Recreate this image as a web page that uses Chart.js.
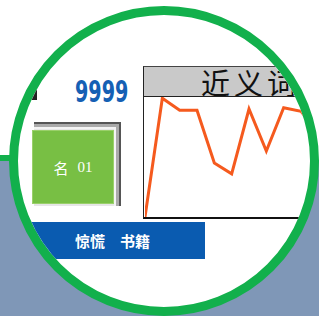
<!DOCTYPE html>
<html lang="zh">
<head>
  <meta charset="UTF-8" />
  <title>近义词</title>
  <style>
    html, body { margin: 0; padding: 0; background: #fff; }
    #page {
      position: relative; width: 319px; height: 316px; overflow: hidden;
      background: linear-gradient(#fff 0, #fff 160px, #7f97b7 160px, #7f97b7 100%);
    }
    #hline { position: absolute; left: 0; top: 155px; width: 60px; height: 6px; background: #12b04c; }
    #lens {
      position: absolute; left: 9px; top: 6px; width: 310px; height: 310px;
      box-sizing: border-box; border: 9px solid #12b04c; border-radius: 50%;
      overflow: hidden; background: #fff;
    }
    /* inner layer uses page coordinates */
    #inner { position: absolute; left: -18px; top: -15px; width: 319px; height: 316px; }
    .abs { position: absolute; }
    #num {
      left: 75px; top: 74px; font: bold 30px "DejaVu Sans Condensed", "DejaVu Sans", sans-serif;
      color: #1560b4; transform: scaleX(0.71); transform-origin: left top;
    }
    #mark { left: 30px; top: 90px; width: 7px; height: 10px; background: #222; }
    #pages {
      left: 34px; top: 122px; width: 85px; height: 82px;
      background: #e6e6e6; border-top: 2px solid #555; border-right: 2px solid #555;
      box-shadow: inset -3px 3px 0 #aaa, inset -5px 5px 0 #f4f4f4;
    }
    #btn {
      left: 32px; top: 130px; width: 82px; height: 74px; background: #78bf44;
      box-shadow: inset 0 0 0 1px #9ad06a;
      display: flex; align-items: center; justify-content: center;
      color: #fff; font: 15px "Noto Sans CJK SC", serif;
    }
    #btn span { font: 15px "Liberation Serif", serif; margin-left: 9px; }
    #bar {
      left: -10px; top: 222px; width: 215px; height: 37px; background: #0a5bb0;
      color: #fff; font: bold 15px "Noto Sans CJK SC", sans-serif; line-height: 37px;
    }
    #bar span { position: absolute; top: 0; }
    #box {
      left: 143px; top: 66px; width: 240px; height: 150px;
      border-left: 1.5px solid #222; border-top: 1px solid #444; border-bottom: 2px solid #111;
    }
    #title {
      position: absolute; left: 0; top: 0; right: 0; height: 29px; background: #c9c9c9;
      border-bottom: 1.5px solid #222; overflow: hidden;
      font: 29px "Noto Sans CJK SC", sans-serif; color: #111; line-height: 30px;
      padding-left: 57px; letter-spacing: 4px; white-space: nowrap;
    }
    #plot { left: 144.5px; top: 97px; width: 208px; height: 120px; }
  </style>
</head>
<body>
  <div id="page">
    <div id="hline"></div>
    <div id="lens">
      <div id="inner">
        <div class="abs" id="mark"></div>
        <div class="abs" id="num">9999</div>
        <div class="abs" id="pages"></div>
        <div class="abs" id="btn">名<span>01</span></div>
        <div class="abs" id="bar"><span style="left:85px">惊慌</span><span style="left:130px">书籍</span></div>
        <div class="abs" id="box"><div id="title">近义词</div></div>
        <div class="abs" id="plot"><canvas id="lineChart"></canvas></div>
      </div>
    </div>
  </div>

  <script src="https://cdn.jsdelivr.net/npm/chart.js"></script>
  <script>
    // values (the last ones fall outside the circle)
    const etiquetas = ['1', '2', '3', '4', '5', '6', '7', '8', '9', '10', '11', '12', '13'];
    const valores = [0, 99, 89, 89, 45, 36, 90, 55, 91, 88, 70, 93, 85];
    const escalaMin = 0;
    const escalaMax = 100;

    const ctx = document.getElementById('lineChart').getContext('2d');
    new Chart(ctx, {
      type: 'line',
      data: {
        labels: etiquetas,
        datasets: [{
          data: valores,
          borderColor: '#f55a1e',
          borderWidth: 3,
          pointRadius: 0,
          tension: 0,
          fill: false,
          clip: false
        }]
      },
      options: {
        responsive: true,
        maintainAspectRatio: false,
        animation: false,
        layout: { padding: 0 },
        plugins: { legend: { display: false }, tooltip: { enabled: false } },
        scales: {
          x: { display: false, offset: false },
          y: { display: false, min: escalaMin, max: escalaMax }
        }
      }
    });
  </script>
</body>
</html>
